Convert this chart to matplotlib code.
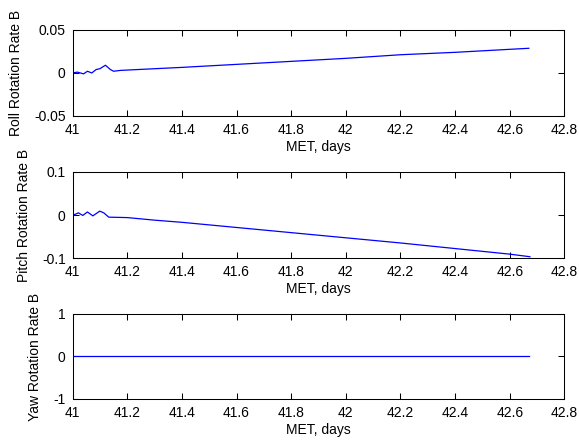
import matplotlib
matplotlib.use('Agg')
import matplotlib.pyplot as plt
from matplotlib.ticker import FormatStrFormatter

plt.rcParams['font.family'] = ['Liberation Sans', 'DejaVu Sans']
plt.rcParams['font.size'] = 10
plt.rcParams['axes.unicode_minus'] = False

# MET (days) and body rates
roll_t = [41.0, 41.017, 41.04, 41.054, 41.07, 41.086, 41.1, 41.12, 41.138, 41.15,
          41.175, 41.4, 41.6, 41.8, 42.0, 42.2, 42.4, 42.6, 42.67]
roll_v = [0.0, 0.001, -0.001, 0.002, 0.0, 0.004, 0.005, 0.009, 0.004, 0.002,
          0.003, 0.0065, 0.010, 0.0135, 0.017, 0.0212, 0.024, 0.0275, 0.0287]

pitch_t = [41.0, 41.021, 41.037, 41.054, 41.074, 41.099, 41.114, 41.132, 41.2, 41.3,
           41.4, 41.6, 41.8, 42.0, 42.2, 42.4, 42.6, 42.674]
pitch_v = [-0.001, 0.005, -0.001, 0.007, -0.002, 0.009, 0.005, -0.005, -0.006, -0.012,
           -0.017, -0.029, -0.041, -0.053, -0.065, -0.078, -0.091, -0.097]

yaw_t = [41.0, 42.67]
yaw_v = [0.0, 0.0]

x_ticks = [41, 41.2, 41.4, 41.6, 41.8, 42, 42.2, 42.4, 42.6, 42.8]
labels = ['Roll Rotation Rate B', 'Pitch Rotation Rate B', 'Yaw Rotation Rate B']
y_limits = [(-0.05, 0.05), (-0.1, 0.1), (-1, 1)]
y_ticks = [[-0.05, 0, 0.05], [-0.1, 0, 0.1], [-1, 0, 1]]

fig = plt.figure(figsize=(5.79, 4.40), dpi=100)
boxes = [[0.1255, 0.7364, 0.8492, 0.1955],
         [0.1255, 0.4136, 0.8492, 0.1955],
         [0.1255, 0.0932, 0.8492, 0.1932]]
series = [(roll_t, roll_v), (pitch_t, pitch_v), (yaw_t, yaw_v)]

for i in range(3):
    ax = fig.add_axes(boxes[i])
    t, v = series[i]
    ax.plot(t, v, color='#0000ff', lw=0.9)
    ax.set_xlim(41, 42.8)
    ax.set_ylim(y_limits[i])
    ax.set_xticks(x_ticks)
    ax.set_yticks(y_ticks[i])
    ax.xaxis.set_major_formatter(FormatStrFormatter('%g'))
    ax.yaxis.set_major_formatter(FormatStrFormatter('%g'))
    ax.tick_params(direction='in', length=4, width=0.75, pad=5,
                   top=True, right=True, labelsize=10)
    for s in ax.spines.values():
        s.set_linewidth(0.75)
    ax.set_xlabel('MET, days', labelpad=2)
    ax.set_ylabel(labels[i], labelpad=8)

fig.savefig('out.png', dpi=100)
